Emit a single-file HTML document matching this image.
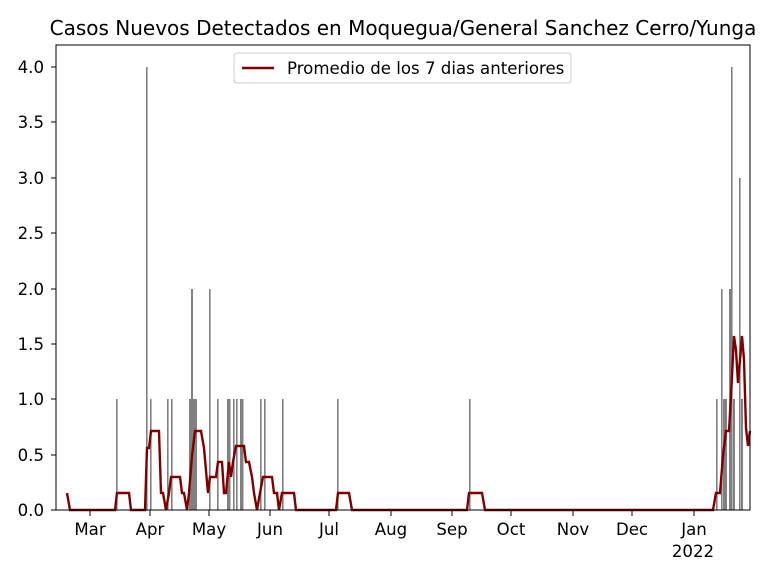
<!DOCTYPE html>
<html><head><meta charset="utf-8"><style>body{margin:0;background:#fff}</style></head><body>
<svg width="768" height="576" xmlns="http://www.w3.org/2000/svg" font-family="DejaVu Sans, sans-serif">
<rect width="768" height="576" fill="#fff"/>
<text x="403" y="35" font-size="20" text-anchor="middle">Casos Nuevos Detectados en Moquegua/General Sanchez Cerro/Yunga</text>
<g fill="#808080">
<rect x="116" y="399" width="1.6" height="111"/>
<rect x="146" y="67" width="1.6" height="443"/>
<rect x="150" y="399" width="1.6" height="111"/>
<rect x="167" y="399" width="1.6" height="111"/>
<rect x="171" y="399" width="1.6" height="111"/>
<rect x="189" y="399" width="2" height="111"/>
<rect x="191" y="289" width="2" height="221"/>
<rect x="193" y="399" width="4" height="111"/>
<rect x="209" y="289" width="1.6" height="221"/>
<rect x="217" y="399" width="1.6" height="111"/>
<rect x="227" y="399" width="3.5" height="111"/>
<rect x="233" y="399" width="1.6" height="111"/>
<rect x="236" y="399" width="1.6" height="111"/>
<rect x="240" y="399" width="3.5" height="111"/>
<rect x="260" y="399" width="1.6" height="111"/>
<rect x="264" y="399" width="1.6" height="111"/>
<rect x="282" y="399" width="1.6" height="111"/>
<rect x="337" y="399" width="1.6" height="111"/>
<rect x="469" y="399" width="1.6" height="111"/>
<rect x="716" y="399" width="1.6" height="111"/>
<rect x="721" y="289" width="1.6" height="221"/>
<rect x="723" y="399" width="4" height="111"/>
<rect x="729" y="289" width="2" height="221"/>
<rect x="731" y="67" width="1.6" height="443"/>
<rect x="733" y="399" width="2" height="111"/>
<rect x="739" y="178" width="1.6" height="332"/>
<rect x="741" y="399" width="2" height="111"/>
</g>
<polyline fill="none" stroke="#800000" stroke-width="2.4" points="67,493 70,510 115,510 117,493 129,493 131,510 145,510 147,448 149,448 151,431 159,431 161,493 163,493 166,510 169,493 171,477 180,477 182,493 184,493 187,510 189,493 192,456 195,431 201,431 204,448 208,493 210,477 216,477 218,462 222,462 224,493 226,493 229,462 231,477 233,462 236,446 244,446 246,462 249,462 252,477 254,493 257,510 260,493 263,477 272,477 274,493 277,493 279,510 282,493 294,493 296,510 336,510 338,493 349,493 352,510 467,510 469,493 482,493 485,510 713,510 716,493 720,493 723,456 726,431 729,431 731,396 734,336 736,350 738,383 740,360 742,336 744,360 746,428 748,446 750,431"/>
<rect x="56" y="45" width="694" height="465" fill="none" stroke="#000" stroke-width="1"/>
<g font-size="16.6" text-anchor="end">
<text x="44" y="516">0.0</text><text x="44" y="461">0.5</text><text x="44" y="405">1.0</text><text x="44" y="350">1.5</text><text x="44" y="295">2.0</text><text x="44" y="239">2.5</text><text x="44" y="184">3.0</text><text x="44" y="128">3.5</text><text x="44" y="73">4.0</text>
</g>
<g stroke="#000">
<line x1="51" x2="56" y1="510" y2="510"/><line x1="51" x2="56" y1="455" y2="455"/><line x1="51" x2="56" y1="399" y2="399"/><line x1="51" x2="56" y1="344" y2="344"/><line x1="51" x2="56" y1="289" y2="289"/><line x1="51" x2="56" y1="233" y2="233"/><line x1="51" x2="56" y1="178" y2="178"/><line x1="51" x2="56" y1="122" y2="122"/><line x1="51" x2="56" y1="67" y2="67"/>
<line x1="90" x2="90" y1="510" y2="516"/><line x1="150" x2="150" y1="510" y2="516"/><line x1="209" x2="209" y1="510" y2="516"/><line x1="270" x2="270" y1="510" y2="516"/><line x1="329" x2="329" y1="510" y2="516"/><line x1="391" x2="391" y1="510" y2="516"/><line x1="452" x2="452" y1="510" y2="516"/><line x1="511" x2="511" y1="510" y2="516"/><line x1="573" x2="573" y1="510" y2="516"/><line x1="632" x2="632" y1="510" y2="516"/><line x1="694" x2="694" y1="510" y2="516"/>
</g>
<g font-size="16.6" text-anchor="middle">
<text x="90" y="535">Mar</text><text x="150" y="535">Apr</text><text x="209" y="535">May</text><text x="270" y="535">Jun</text><text x="329" y="535">Jul</text><text x="391" y="535">Aug</text><text x="452" y="535">Sep</text><text x="511" y="535">Oct</text><text x="573" y="535">Nov</text><text x="632" y="535">Dec</text><text x="694" y="535">Jan</text><text x="693" y="557">2022</text>
</g>
<rect x="234" y="53" width="337" height="30" rx="3" fill="#fff" stroke="#ccc"/>
<line x1="242" x2="274" y1="68" y2="68" stroke="#800000" stroke-width="2.4"/>
<text x="287" y="74" font-size="16.6">Promedio de los 7 dias anteriores</text>
</svg>
</body></html>
